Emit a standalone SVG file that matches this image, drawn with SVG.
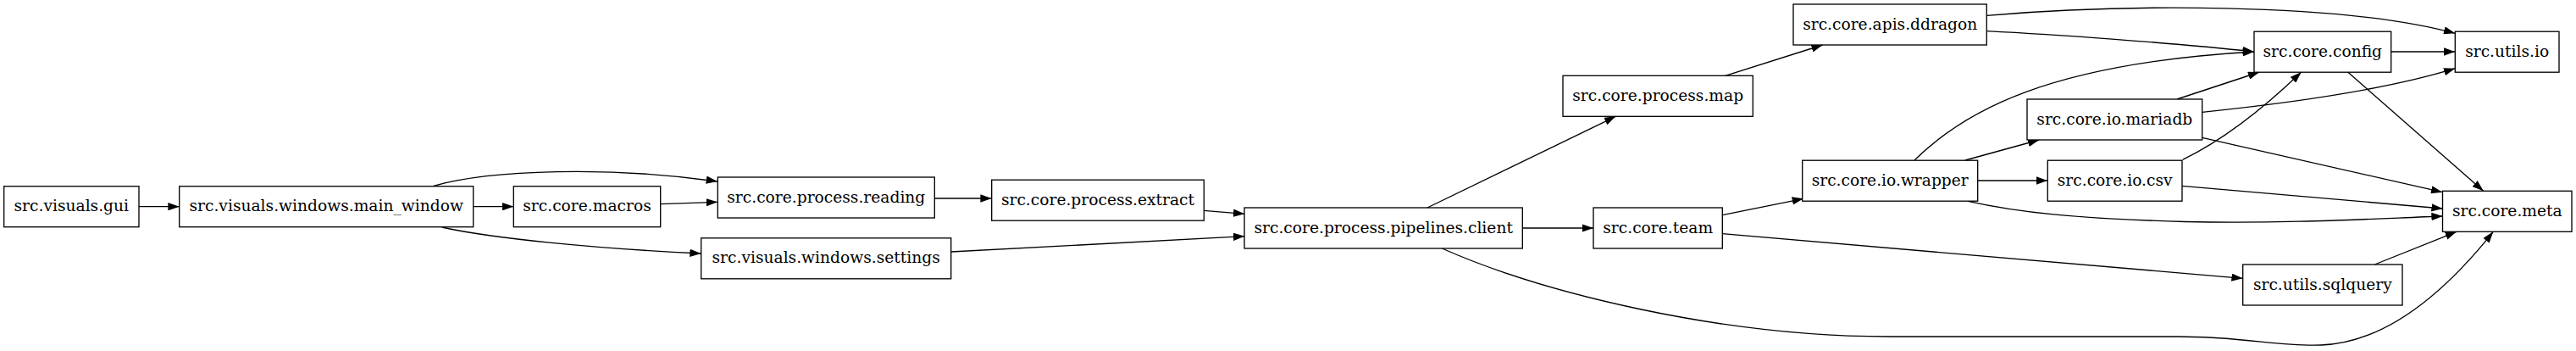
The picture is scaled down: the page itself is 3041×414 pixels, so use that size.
<svg xmlns="http://www.w3.org/2000/svg" width="3041" height="414" viewBox="0 0 3041 414">
<style>
.n rect{fill:#fff;stroke:#000;stroke-width:1.33}
.n text{font-family:"DejaVu Serif",serif;font-size:18.67px;text-anchor:middle;fill:#000}
.e path{fill:none;stroke:#000;stroke-width:1.33;marker-end:url(#ah)}
</style>
<defs>
<marker id="ah" viewBox="0 0 13.33 9.33" refX="13.33" refY="4.67" markerWidth="13.33" markerHeight="9.33" markerUnits="userSpaceOnUse" orient="auto">
<path d="M0,0 L13.33,4.67 L0,9.33 z" fill="#000"/>
</marker>
</defs>
<rect width="3041" height="414" fill="#fff"/>
<g id="edges" class="e">
<path d="M164,243.7 L211.7,243.7"/>
<path d="M558.7,243.7 L606.3,243.7"/>
<path d="M511.7,219.3 C580,200 720,196 847,214"/>
<path d="M779.7,240.7 L847,238.3"/>
<path d="M521.7,268 C580,281 700,293 827.7,299"/>
<path d="M1103.3,234 L1170.7,234"/>
<path d="M1421.3,248.3 L1469.3,252.3"/>
<path d="M1122.7,297 L1469.3,278.7"/>
<path d="M1685,245 L1907.3,137.3"/>
<path d="M1797.3,269 L1881,269"/>
<path d="M1702.3,293 C1820,345 2030,397 2230,397 L2570,397 C2650,397 2690,409 2740,407 C2820,404 2890,340 2943.3,273.3"/>
<path d="M2036.7,89.3 L2151.7,53"/>
<path d="M2345.3,18.3 C2500,5 2760,2 2898.3,39.3"/>
<path d="M2345.3,36.7 C2420,40.5 2560,50 2661,61"/>
<path d="M2033.3,253.7 L2129,234.3"/>
<path d="M2033.3,275.7 L2647.7,328.3"/>
<path d="M2260,189 C2320,130 2420,75 2661,61"/>
<path d="M2320,189 L2407.3,165"/>
<path d="M2334.7,213 L2417.3,213"/>
<path d="M2323.3,237.3 C2380,250 2450,258 2580,261.5 C2700,264 2800,258 2883.7,255"/>
<path d="M2570,117 L2667.3,85"/>
<path d="M2599.7,132.3 C2700,122 2820,105 2898.3,80.7"/>
<path d="M2599.7,162.3 L2883.3,226.7"/>
<path d="M2576.7,188.3 C2625,165 2675,125 2716.7,85"/>
<path d="M2576,219.3 L2883.7,246"/>
<path d="M2822.7,61 L2898.3,61"/>
<path d="M2771.7,85 L2931.7,225.3"/>
<path d="M2803.3,312 L2900,273.3"/>
</g>
<g id="gui" class="n"><rect x="4.7" y="219.7" width="159.3" height="48"/><text x="84.3" y="249.3">src.visuals.gui</text></g>
<g id="main_window" class="n"><rect x="211.7" y="219.7" width="347" height="48"/><text x="385.2" y="249.3">src.visuals.windows.main_window</text></g>
<g id="macros" class="n"><rect x="606.3" y="219.7" width="173.4" height="48"/><text x="693" y="249.3">src.core.macros</text></g>
<g id="reading" class="n"><rect x="847.3" y="209" width="256" height="48"/><text x="975.3" y="238.6">src.core.process.reading</text></g>
<g id="extract" class="n"><rect x="1170.7" y="212.2" width="250.6" height="48"/><text x="1296" y="241.8">src.core.process.extract</text></g>
<g id="settings" class="n"><rect x="827.7" y="280.8" width="295" height="48"/><text x="975.2" y="310.4">src.visuals.windows.settings</text></g>
<g id="pipelines_client" class="n"><rect x="1469" y="245" width="328.3" height="48"/><text x="1633.2" y="274.6">src.core.process.pipelines.client</text></g>
<g id="map" class="n"><rect x="1845" y="89.3" width="224.3" height="48"/><text x="1957.2" y="118.9">src.core.process.map</text></g>
<g id="team" class="n"><rect x="1881" y="245" width="152.3" height="48"/><text x="1957.2" y="274.6">src.core.team</text></g>
<g id="ddragon" class="n"><rect x="2117" y="5" width="228.3" height="48"/><text x="2231.2" y="34.6">src.core.apis.ddragon</text></g>
<g id="wrapper" class="n"><rect x="2127.7" y="189.2" width="207" height="48"/><text x="2231.2" y="218.8">src.core.io.wrapper</text></g>
<g id="mariadb" class="n"><rect x="2393" y="117" width="206.7" height="48"/><text x="2496.3" y="146.6">src.core.io.mariadb</text></g>
<g id="csv" class="n"><rect x="2417.3" y="189.2" width="158.7" height="48"/><text x="2496.7" y="218.8">src.core.io.csv</text></g>
<g id="config" class="n"><rect x="2661" y="37.2" width="161.7" height="48"/><text x="2741.8" y="66.8">src.core.config</text></g>
<g id="sqlquery" class="n"><rect x="2647.7" y="312" width="188.3" height="48"/><text x="2741.8" y="341.6">src.utils.sqlquery</text></g>
<g id="utils_io" class="n"><rect x="2898.3" y="37.2" width="122.7" height="48"/><text x="2959.7" y="66.8">src.utils.io</text></g>
<g id="meta" class="n"><rect x="2883.5" y="225.3" width="152.5" height="48"/><text x="2959.8" y="254.9">src.core.meta</text></g>
</svg>
